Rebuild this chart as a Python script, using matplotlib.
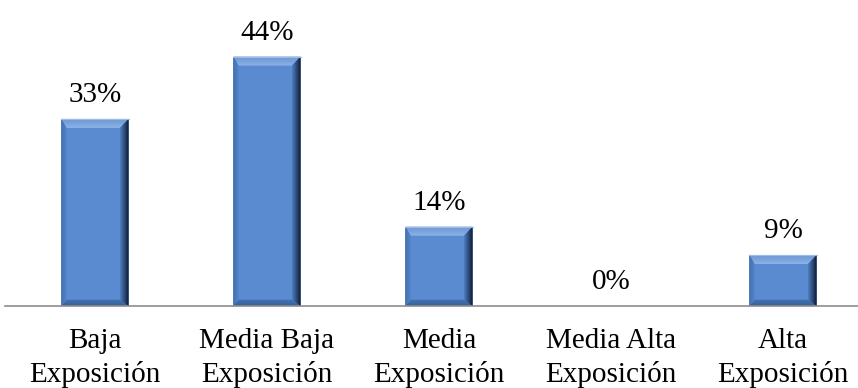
import numpy as np
import matplotlib.pyplot as plt
from matplotlib.patches import Polygon
from matplotlib.colors import LinearSegmentedColormap

categorias = ["Baja\nExposición", "Media Baja\nExposición", "Media\nExposición",
              "Media Alta\nExposición", "Alta\nExposición"]
porcentajes = [33, 44, 14, 0, 9]

plt.rcParams['font.family'] = ['Liberation Serif', 'DejaVu Serif']

fig = plt.figure(figsize=(8.58, 3.88), dpi=100)
ax = fig.add_axes([5 / 858, 1 - 306 / 388, 853 / 858, 283.5 / 388])

x = np.arange(len(categorias))
ancho = 0.39
bxi = 0.03   # bisel izquierdo
bxd = 0.05   # bisel derecho
bys = 1.6    # bisel superior
byi = 1.1    # bisel inferior

cara = "#5a8bd0"


def bisel(puntos, extent, colores, vertical=False):
    # relleno degradado recortado al trapecio del bisel
    poly = Polygon(puntos, facecolor="none", edgecolor="none", zorder=3)
    ax.add_patch(poly)
    g = np.linspace(0, 1, 64)
    g = g.reshape(-1, 1) if vertical else g.reshape(1, -1)
    cm = LinearSegmentedColormap.from_list("b", colores)
    img = ax.imshow(g, extent=extent, aspect="auto", cmap=cm, origin="lower",
                    zorder=3, interpolation="bilinear")
    img.set_clip_path(poly)


for xi, v in zip(x, porcentajes):
    if v > 0:
        x0, x1 = xi - ancho / 2, xi + ancho / 2
        ax.add_patch(Polygon([(x0, 0), (x1, 0), (x1, v), (x0, v)],
                             facecolor=cara, edgecolor="none", zorder=2))
        # superior: claro hacia la cara
        bisel([(x0, v), (x1, v), (x1 - bxd, v - bys), (x0 + bxi, v - bys)],
              (x0, x1, v - bys, v), ["#8db3e6", "#7aa3dc", "#6c97d3"], vertical=True)
        # inferior: más oscuro
        bisel([(x0, 0), (x1, 0), (x1 - bxd, byi), (x0 + bxi, byi)],
              (x0, x1, 0, byi), ["#36609a", "#4573b3"], vertical=True)
        # izquierdo
        bisel([(x0, 0), (x0, v), (x0 + bxi, v - bys), (x0 + bxi, byi)],
              (x0, x0 + bxi, 0, v), ["#4370ac", "#5585c8"])
        # derecho: degradado hacia casi negro
        bisel([(x1, 0), (x1, v), (x1 - bxd, v - bys), (x1 - bxd, byi)],
              (x1 - bxd, x1, 0, v), ["#4f7fc0", "#2d4d7e", "#0e1828"])
        ax.plot([x0, x1], [v, v], color="#9dbbe6", lw=0.8, zorder=4)
    ax.text(xi, v + 3.0, f"{v}%", ha="center", va="baseline", fontsize=21)

ax.set_xlim(-0.523, 4.436)
ax.set_ylim(0, 50)
ax.set_xticks(x)
ax.set_xticklabels(categorias, fontsize=21, linespacing=1.3)
ax.tick_params(axis="x", length=0, pad=16)
ax.set_yticks([])
for s in ["top", "right", "left"]:
    ax.spines[s].set_visible(False)
ax.spines["bottom"].set_color("#8c8c8c")
ax.spines["bottom"].set_linewidth(1.2)
ax.spines["bottom"].set_zorder(5)

fig.savefig("out.png", dpi=100)
